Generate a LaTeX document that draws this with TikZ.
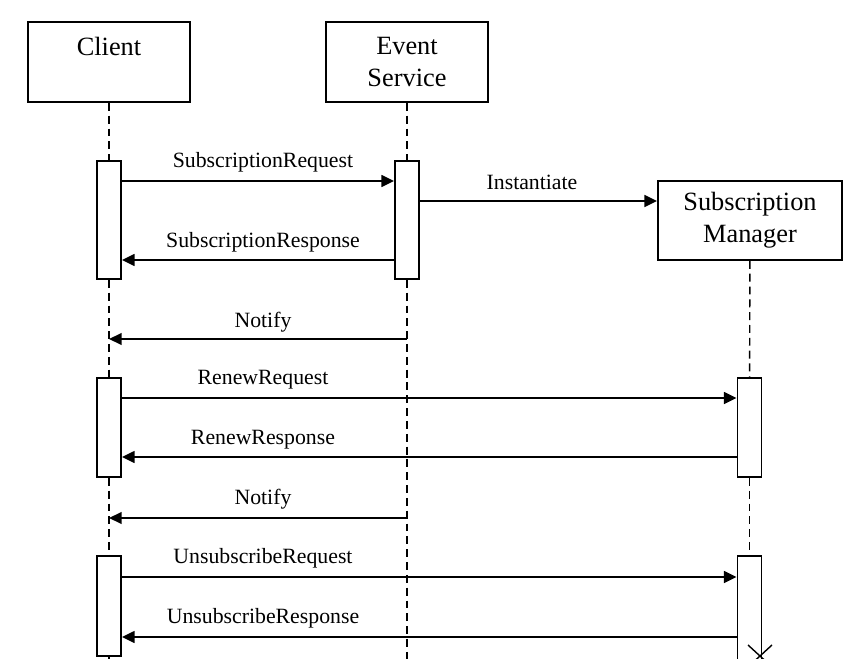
\documentclass[tikz,border=0pt]{standalone}
\usepackage{fontspec}
\setmainfont{Liberation Serif}
\usetikzlibrary{arrows.meta}

\begin{document}
\begin{tikzpicture}[x=0.02cm, y=-0.02cm,
    actor/.style={shape=rectangle, draw=black, line width=1pt, align=center, inner sep=0pt, font=\fontsize{15}{18}\selectfont},
    act/.style={shape=rectangle, draw=black, fill=white, line width=1pt, minimum width=0.48cm, inner sep=0pt},
    life/.style={line width=0.8pt, dash pattern=on 4.5pt off 2.8pt},
    msg/.style={line width=1.3pt, -{Triangle[length=7.2pt,width=6.6pt]}},
    lbl/.style={inner sep=0pt, font=\fontsize{12.4}{14}\selectfont}]
    \useasboundingbox (0,0) rectangle (860,659);

    \node[actor, minimum width=3.24cm, minimum height=1.6cm] (client) at (109,62) {Client\\~};
    \node[actor, minimum width=3.24cm, minimum height=1.6cm] (es) at (407,62) {Event\\Service};
    \node[actor, minimum width=3.68cm, minimum height=1.58cm] (sm) at (750,220.5) {Subscription\\Manager};

    \node[act, minimum height=2.36cm] (ca1) at (109,220) {};
    \node[act, minimum height=2.36cm] (es1) at (407,220) {};
    \node[act, minimum height=1.98cm] (ca2) at (109,427.5) {};
    \node[act, minimum height=1.98cm] (sm1) at (749.5,427.5) {};
    \node[act, minimum height=2.0cm] (ca3) at (109,606) {};
    \node[act, minimum height=2.08cm] (sm2) at (749.5,608) {};

    \coordinate (m1) at (0,181);
    \coordinate (m2) at (0,201);
    \coordinate (m3) at (0,260);
    \coordinate (m4) at (0,339);
    \coordinate (m5) at (0,398);
    \coordinate (m6) at (0,457);
    \coordinate (m7) at (0,518);
    \coordinate (m8) at (0,577);
    \coordinate (m9) at (0,637);
    \coordinate (bot) at (0,662);
    \coordinate (smend) at (760,656);

    % lifelines
    \path[life] (client) edge (ca1) (ca1) edge (ca2) (ca2) edge (ca3);
    \draw[life] (ca3.south) -- (ca3.south |- bot);
    \path[life] (es) edge (es1);
    \draw[life] (es1.south) -- (es1.south |- bot);
    \path[life] (sm) edge (sm1) (sm1) edge (sm2);

    \draw[msg] (ca1.east |- m1) -- (es1.west |- m1);
    \draw[msg] (es1.east |- m2) -- (sm.west |- m2);
    \draw[msg] (es1.west |- m3) -- (ca1.east |- m3);
    \draw[msg] (es.south |- m4) -- (client.south |- m4);
    \draw[msg] (ca2.east |- m5) -- (sm1.west |- m5);
    \draw[msg] (sm1.west |- m6) -- (ca2.east |- m6);
    \draw[msg] (es.south |- m7) -- (client.south |- m7);
    \draw[msg] (ca3.east |- m8) -- (sm2.west |- m8);
    \draw[msg] (sm2.west |- m9) -- (ca3.east |- m9);

    \node[lbl] (l1) at (263,162) {SubscriptionRequest};
    \node[lbl] (l2) at (532,182) {Instantiate};
    \node[lbl] (l3) at (263,242) {SubscriptionResponse};
    \node[lbl] (l4) at (263,322) {Notify};
    \node[lbl] (l5) at (263,380) {RenewRequest};
    \node[lbl] (l6) at (263,440) {RenewResponse};
    \node[lbl] (l7) at (263,499) {Notify};
    \node[lbl] (l8) at (263,558) {UnsubscribeRequest};
    \node[lbl] (l9) at (263,618) {UnsubscribeResponse};

    % end of the manager
    \draw[line width=0.8pt] (smend) ++(-12,-11) -- ++(24,22) (smend) ++(12,-11) -- ++(-24,22);
\end{tikzpicture}
\end{document}
